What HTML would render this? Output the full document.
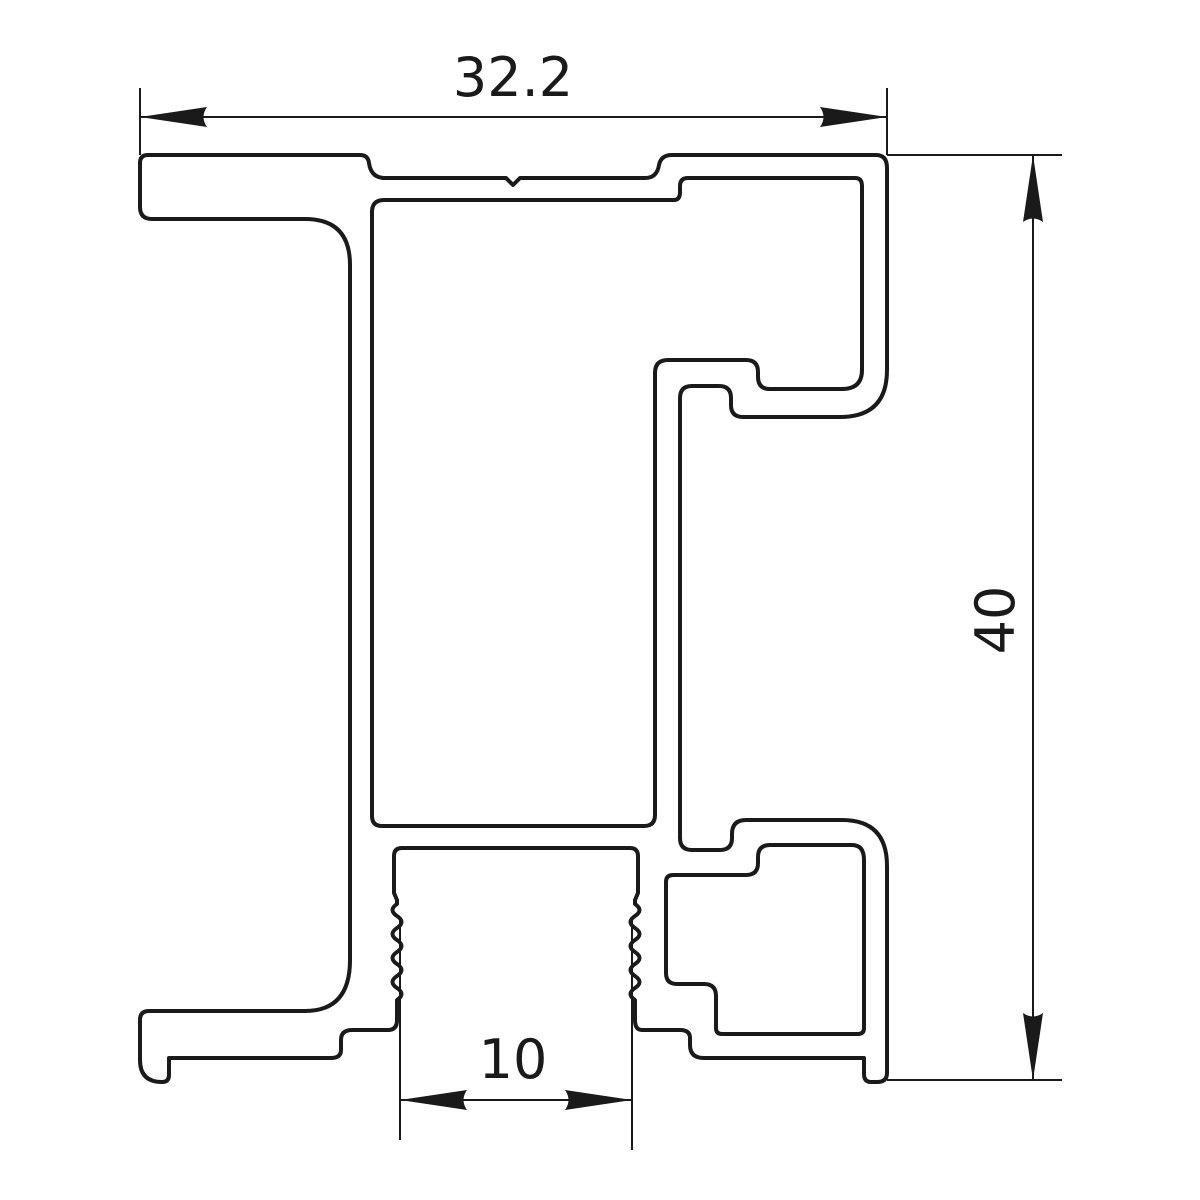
<!DOCTYPE html>
<html><head><meta charset="utf-8"><style>html,body{margin:0;padding:0;background:#fff}svg{display:block}</style></head>
<body>
<svg width="1200" height="1200" viewBox="0 0 1200 1200" xmlns="http://www.w3.org/2000/svg">
<g fill="none" stroke="#1a1a1a" stroke-width="4" stroke-linejoin="round">
<path d="M148,155 L360,155 Q368,155 369,163 Q371,178 385,178 L506,178 L513,185 L520,178 L645,178 Q657,178 659,165 Q661,155 672,155 L876,155 Q887,155 887,168 L887,370 Q887,417 840,417 L743,417 Q731,417 731,405 L731,398 Q731,386 719,386 L692,386 Q680,386 680,398 L680,838 Q680,850 692,850 L720,850 Q732,850 732,838 L732,834 Q732,820 746,820 L842,820 Q887,820 887,866 L887,1073 Q887,1082 877,1082 L871,1082 Q864,1082 864,1074 L864,1058 L704,1058 Q690,1058 690,1045 L690,1038 Q690,1030 680,1030 L642,1030 Q635,1030 635,1020 L635,1000
 Q626,994 635,988 Q644,982 635,976 Q626,970 635,964 Q644,958 635,952 Q626,946 635,940 Q644,934 635,928 Q626,922 635,916 Q644,910 635,904 L635,900 L638,893 L638,856 Q638,848 630,848 L402,848 Q394,848 394,856 L394,893 L397,900 L397,904
 Q388,910 397,916 Q406,922 397,928 Q388,934 397,940 Q406,946 397,952 Q388,958 397,964 Q406,970 397,976 Q388,982 397,988 Q406,994 397,1000 L397,1020 Q397,1030 388,1030 L352,1030 Q341,1030 341,1040 L341,1050 Q341,1058 331,1058 L169,1058 L169,1075 Q169,1082 162,1082 Q140,1082 140,1060 L140,1020 Q140,1011 149,1011 L305,1011 Q350,1011 350,960 L350,265 Q350,219 305,219 L152,219 Q140,219 140,207 L140,163 Q140,155 148,155 Z"/>
<path d="M384,200 L674,200 Q680,200 680,192 L680,186 Q680,178 688,178 L855,178 Q862,178 862,186 L862,370 Q862,389 842,389 L770,389 Q758,389 758,377 L758,372 Q758,360 746,360 L668,360 Q655,360 655,373 L655,815 Q655,826 644,826 L382,826 Q372,826 372,816 L372,212 Q372,200 384,200 Z"/>
<path d="M673,875 L746,875 Q758,875 758,863 L758,857 Q758,845 770,845 L852,845 Q864,845 864,860 L864,1028 Q864,1034 858,1034 L722,1034 Q716,1034 716,1028 L716,996 Q716,984 704,984 L677,984 Q666,984 666,973 L666,882 Q666,875 673,875 Z"/>
</g>
<g stroke="#1a1a1a" stroke-width="2" fill="none">
<line x1="140" y1="88" x2="140" y2="155"/>
<line x1="887" y1="88" x2="887" y2="155"/>
<line x1="140" y1="117" x2="887" y2="117"/>
<line x1="887" y1="155" x2="1062" y2="155"/>
<line x1="887" y1="1080" x2="1062" y2="1080"/>
<line x1="1033" y1="155" x2="1033" y2="1080"/>
<line x1="400" y1="920" x2="400" y2="1140"/>
<line x1="632" y1="920" x2="632" y2="1150"/>
<line x1="400" y1="1100" x2="632" y2="1100"/>
</g>
<g fill="#1a1a1a">
<path d="M140,117 L207,107 Q200,117 207,127 Z"/>
<path d="M887,117 L820,107 Q827,117 820,127 Z"/>
<path d="M1033,155 L1023,222 Q1033,215 1043,222 Z"/>
<path d="M1033,1080 L1023,1013 Q1033,1020 1043,1013 Z"/>
<path d="M400,1100 L467,1090 Q460,1100 467,1110 Z"/>
<path d="M632,1100 L565,1090 Q572,1100 565,1110 Z"/>
</g>
<g font-family="'DejaVu Sans','Liberation Sans',sans-serif" font-size="54" fill="#1a1a1a" text-anchor="middle">
<text x="513" y="96">32.2</text>
<text x="513" y="1078">10</text>
<text transform="translate(1014,620) rotate(-90)">40</text>
</g>
</svg>
</body></html>
